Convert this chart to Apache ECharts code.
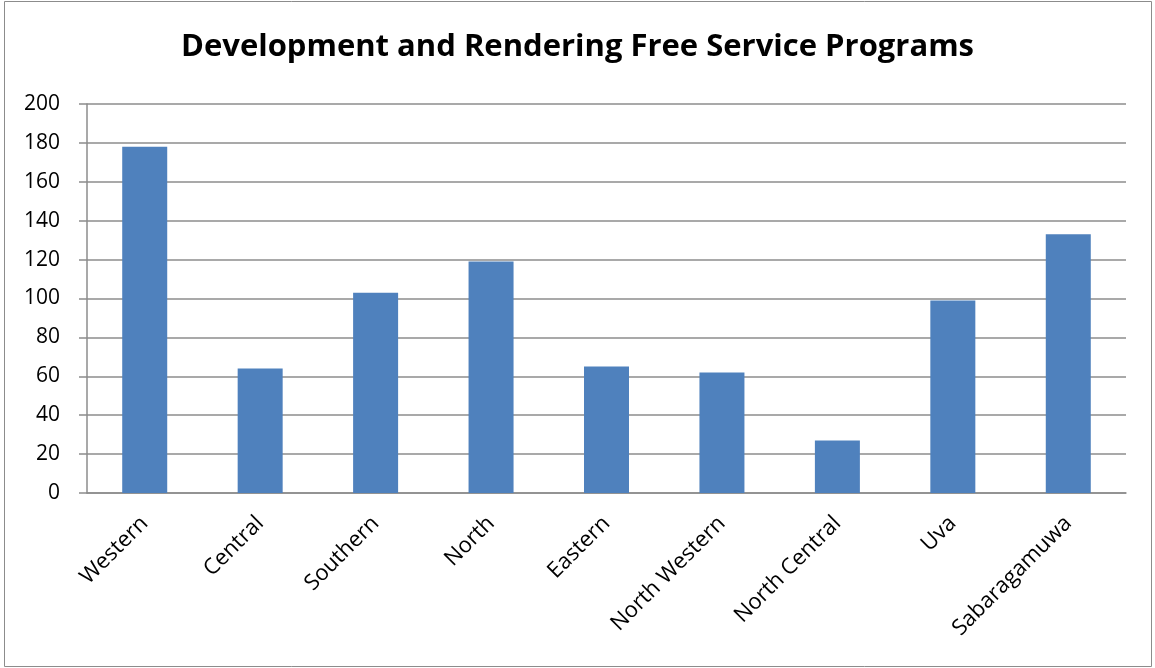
<!DOCTYPE html>
<html><head><meta charset="utf-8">
<script src="https://cdn.jsdelivr.net/npm/echarts@6/dist/echarts.min.js"></script>
<style>html,body{margin:0;padding:0;background:#fff}#c{width:1155px;height:668px}</style>
</head><body><div id="c"></div>
<script>
const categories = ["Western","Central","Southern","North","Eastern","North Western","North Central","Uva","Sabaragamuwa"];
const values = [178, 64, 103, 119, 65, 62, 27, 99, 133];
const yTicks = {min: 0, max: 200, interval: 20};
const titleText = "Development and Rendering Free Service Programs";

const chart = echarts.init(document.getElementById('c'));
const font = "'Open Sans', 'Noto Sans', sans-serif";
chart.setOption({
  animation: false,
  backgroundColor: '#fff',
  graphic: [{type:'rect', shape:{x:4.5,y:1.5,width:1147,height:665}, style:{fill:'none', stroke:'#8c8c8c', lineWidth:1}, z:-1}],
  title: {text: titleText, left: 'center', top: 27, textStyle:{fontFamily: font, fontWeight:'bold', fontSize:31, color:'#000'}},
  grid: {left: 87, right: 29, top: 104, bottom: 175},
  xAxis: {type:'category', data: categories,
    axisLine:{lineStyle:{color:'#8c8c8c', width:1.5}},
    axisTick:{show:false},
    axisLabel:{rotate:45, interval:0, margin:27, fontFamily:font, fontSize:22, color:'#000'}},
  yAxis: {type:'value', min:yTicks.min, max:yTicks.max, interval:yTicks.interval,
    axisLine:{show:true, lineStyle:{color:'#8c8c8c', width:1.5}},
    axisTick:{show:true, length:8, lineStyle:{color:'#8c8c8c', width:1.5}},
    splitLine:{lineStyle:{color:'#8c8c8c', width:1.5}},
    axisLabel:{margin:27, fontFamily:font, fontSize:21, color:'#000'}},
  series: [{type:'bar', data: values, barWidth: 45, itemStyle:{color:'#4f81bd'}}]
});
</script></body></html>
